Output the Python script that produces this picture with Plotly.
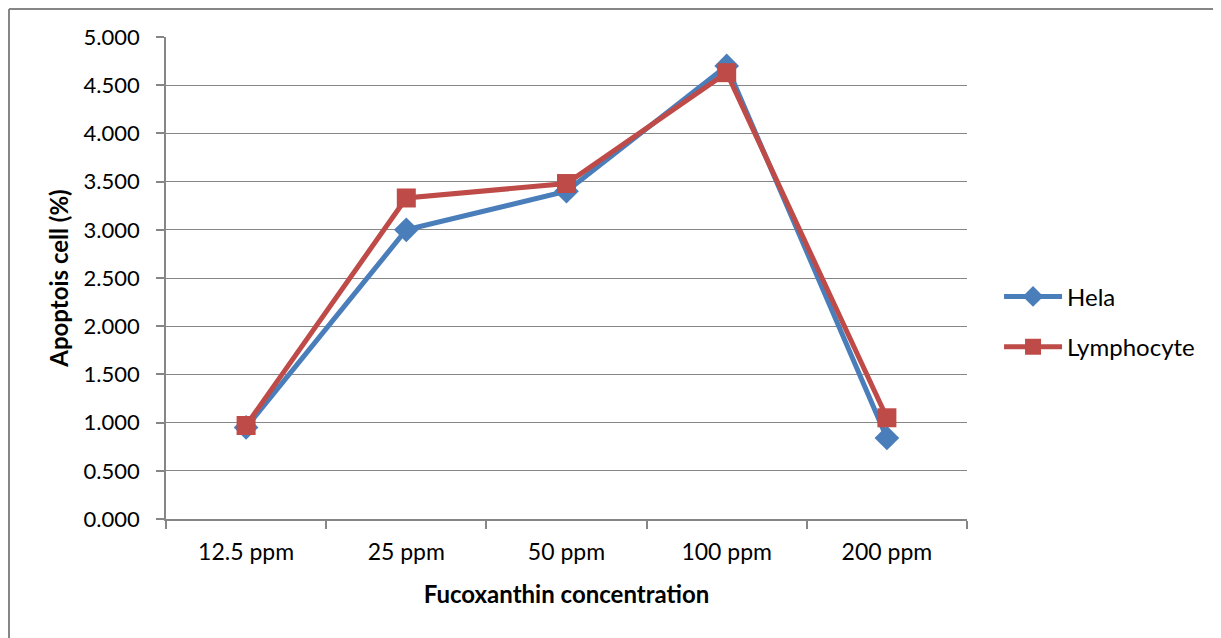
import plotly.graph_objects as go

categories = ["12.5 ppm", "25 ppm", "50 ppm", "100 ppm", "200 ppm"]
hela = [0.95, 3.00, 3.40, 4.70, 0.84]
lymphocyte = [0.97, 3.33, 3.48, 4.63, 1.05]
y_ticks = [0, 0.5, 1, 1.5, 2, 2.5, 3, 3.5, 4, 4.5, 5]
y_tick_labels = [f"{v:.3f}" for v in y_ticks]

FONT = "Lato, Open Sans, sans-serif"
BLUE = "#4A7EBB"
RED = "#BE4B48"
GRID = "#868686"

fig = go.Figure()
fig.add_trace(go.Scatter(x=categories, y=hela, name="Hela", mode="lines+markers",
                         legendgroup="a",
                         line=dict(color=BLUE, width=5),
                         marker=dict(symbol="diamond", size=19, color=BLUE)))
fig.add_trace(go.Scatter(x=categories, y=lymphocyte, name="Lymphocyte", mode="lines+markers",
                         legendgroup="b",
                         line=dict(color=RED, width=5),
                         marker=dict(symbol="square", size=19, color=RED)))

W, H = 1213, 630
L, R, T, B = 158, 254, 29, 119
PW, PH = W - L - R, H - T - B
x_left = -L / PW + 1 / PW
y_top = 1 + T / PH - 1 / PH

fig.update_layout(
    width=W, height=H,
    margin=dict(l=L, r=R, t=T, b=B, autoexpand=False),
    paper_bgcolor="white", plot_bgcolor="white",
    font=dict(family=FONT, size=22, color="black"),
    showlegend=True,
    legend=dict(x=1.04, y=0.409, xanchor="left", yanchor="middle",
                font=dict(size=24), tracegroupgap=16, itemwidth=58,
                bgcolor="rgba(0,0,0,0)"),
    xaxis=dict(type="category", showgrid=False, showline=True, linecolor=GRID,
               linewidth=1.5, ticks="outside", tickson="boundaries", ticklen=8,
               tickcolor=GRID, tickwidth=1.5, tickfont=dict(size=23),
               ticklabelstandoff=12,
               title=dict(text="<b>Fucoxanthin concentration</b>", font=dict(size=24), standoff=22),
               range=[-0.5, 4.5]),
    yaxis=dict(range=[0, 5], tickvals=y_ticks, ticktext=y_tick_labels,
               showgrid=True, gridcolor=GRID, gridwidth=1.2,
               showline=True, linecolor=GRID, linewidth=1.5,
               ticks="outside", ticklen=8, tickcolor=GRID, tickwidth=1.5,
               tickfont=dict(size=22), ticklabelstandoff=12,
               zeroline=False,
               title=dict(text="<b>Apoptois cell (%)</b>", font=dict(size=24), standoff=8)),
    shapes=[
        dict(type="line", xref="paper", yref="paper",
             x0=x_left, x1=1.6, y0=y_top, y1=y_top,
             line=dict(color=GRID, width=2), layer="below"),
        dict(type="line", xref="paper", yref="paper",
             x0=x_left, x1=x_left, y0=-0.4, y1=y_top,
             line=dict(color=GRID, width=2), layer="below"),
    ],
)

fig.write_html("out.html")
